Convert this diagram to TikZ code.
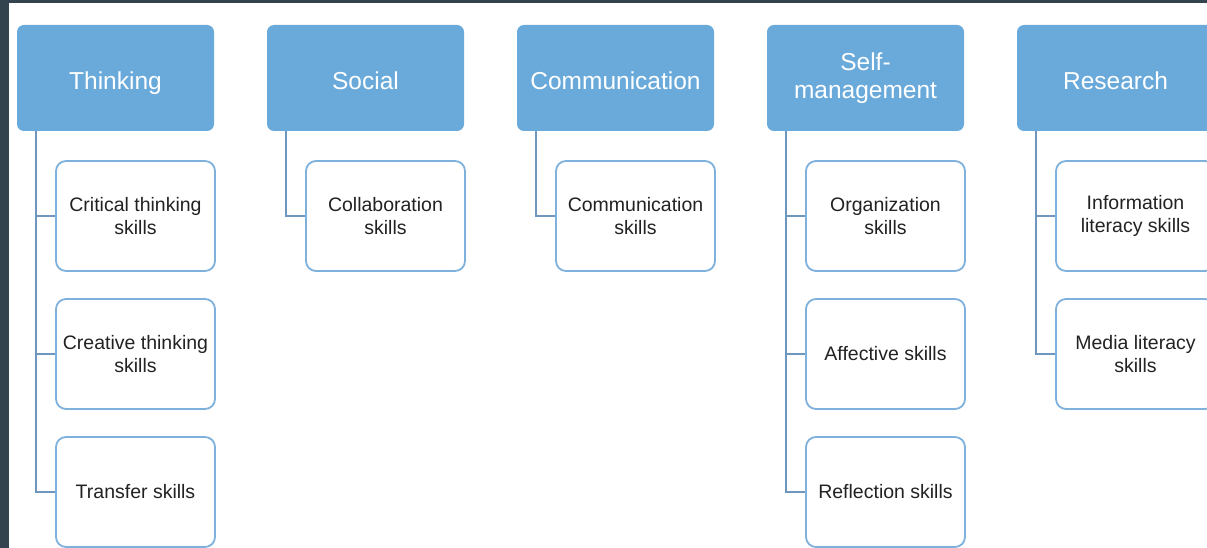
\documentclass[tikz,border=0pt]{standalone}
\usepackage{fontspec}
\setmainfont{Liberation Sans}
\definecolor{frame}{HTML}{34444E}
\definecolor{headfill}{HTML}{6AAADB}
\definecolor{boxline}{HTML}{7EB1DC}
\definecolor{linkline}{HTML}{6E96BF}
\definecolor{bodytext}{HTML}{222222}
\tikzset{
  x=1pt, y=-1pt,
  headbox/.style={draw=none, fill=headfill, rounded corners=7pt,
    minimum width=197pt, minimum height=106pt, inner sep=0pt,
    text=white, align=center, font=\fontsize{24.5}{28}\selectfont},
  oneline/.style={text height=23.6pt, text depth=1pt},
  skillbox/.style={draw=boxline, line width=1.8pt, fill=white, rounded corners=10pt,
    minimum width=159pt, minimum height=110pt, inner sep=0pt,
    text=bodytext, align=center, font=\fontsize{19.5}{22.5}\selectfont},
  link/.style={draw=linkline, line width=1.8pt}
}
\begin{document}
\begin{tikzpicture}
\useasboundingbox (0,0) rectangle (1207,548);
\fill[frame] (0,0) rectangle (1207,548);
\fill[white] (9,3) rectangle (1207,548);
\begin{scope}
\clip (9,3) rectangle (1207,548);

% category headers
\node[headbox, oneline] (thinking) at (115.5,78) {Thinking};
\node[headbox, oneline] (social) at (365.5,78) {Social};
\node[headbox, oneline] (comm) at (615.5,78) {Communication};
\node[headbox] (self) at (865.5,78) {Self-\\management};
\node[headbox, oneline] (research) at (1115.5,78) {Research};

% skill boxes
\node[skillbox] (critical) at (135.5,216) {Critical thinking\\skills};
\node[skillbox] (creative) at (135.5,354) {Creative thinking\\skills};
\node[skillbox] (transfer) at (135.5,492) {Transfer skills};
\node[skillbox] (collab) at (385.5,216) {Collaboration\\skills};
\node[skillbox] (commsk) at (635.5,216) {Communication\\skills};
\node[skillbox] (organ) at (885.5,216) {Organization\\skills};
\node[skillbox] (affect) at (885.5,354) {Affective skills};
\node[skillbox] (reflect) at (885.5,492) {Reflection skills};
\node[skillbox] (info) at (1135.5,216) {Information\\literacy skills};
\node[skillbox] (media) at (1135.5,354) {Media literacy\\skills};

% elbow connectors from each header to its skills
\foreach \head/\kid in {thinking/critical, thinking/creative, thinking/transfer,
    social/collab, comm/commsk,
    self/organ, self/affect, self/reflect,
    research/info, research/media}{
  \draw[link] ([xshift=19pt]\head.south west) |- (\kid.west);
}
\end{scope}
\end{tikzpicture}
\end{document}
